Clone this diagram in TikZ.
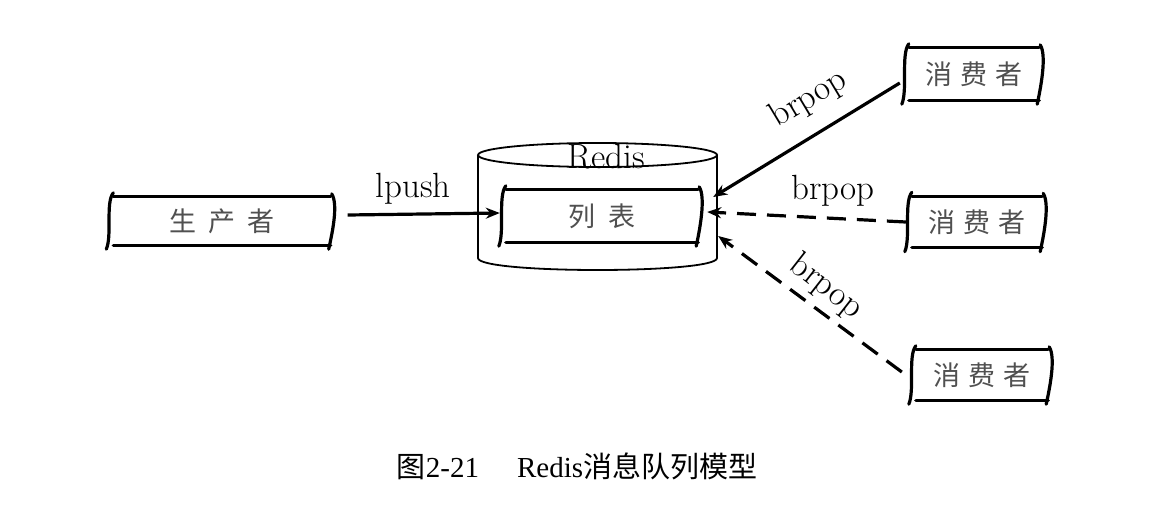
\documentclass[tikz,border=0pt]{standalone}
\usepackage{fontspec}
\usetikzlibrary{arrows.meta}
\newfontfamily\cjk{Noto Sans CJK SC}
\newfontfamily\capfont{Liberation Serif}
\definecolor{handgray}{HTML}{505050}
\tikzset{
  box/.style={inner sep=0pt, font=\cjk\fontsize{27}{27}\selectfont, text=handgray},
  bline/.style={line width=3.2pt, line cap=round},
  arr/.style={line width=3.2pt, -{Stealth[length=14pt,width=11pt]}},
  darr/.style={arr, dash pattern=on 19pt off 11pt},
  lbl/.style={font=\fontsize{35}{35}\selectfont, inner sep=0pt},
}
\newcommand\brk[1]{%
  \draw[bline] ([xshift=4pt]#1.north west) -- ([xshift=-4pt]#1.north east);
  \draw[bline] ([xshift=4pt]#1.south west) -- ([xshift=-4pt]#1.south east);
  \draw[bline] ([xshift=4pt,yshift=4pt]#1.north west) .. controls ([xshift=-4pt,yshift=-6pt]#1.north west) and ([xshift=3pt,yshift=10pt]#1.south west) .. ([xshift=-3pt,yshift=-4pt]#1.south west);
  \draw[bline] ([xshift=-3pt,yshift=3pt]#1.north east) .. controls ([xshift=4pt,yshift=-8pt]#1.north east) and ([xshift=-3pt,yshift=10pt]#1.south east) .. ([xshift=-6pt,yshift=-4pt]#1.south east);
}
\begin{document}
\begin{tikzpicture}[x=1pt,y=-1pt]
\useasboundingbox[fill=white] (0,0) rectangle (1169,506);
% cylinder
\draw[line width=1.8pt, fill=white] (478,155) -- (478,258) .. controls (478,274) and (717,274) .. (717,258) -- (717,155);
\draw[line width=1.8pt, fill=white] (597.5,155) ellipse [x radius=119.5pt, y radius=12pt];
\node[lbl] (redis) at (606,157) {Redis};
% boxes
\node[box, minimum width=225pt, minimum height=48pt] (prod) at (222,221) {生\hspace{12pt}产\hspace{12pt}者};
\node[box, minimum width=200pt, minimum height=52pt] (list) at (602,216) {列\hspace{14pt}表};
\node[box, minimum width=138pt, minimum height=52pt] (c1) at (974,74) {消\hspace{8pt}费\hspace{8pt}者};
\node[box, minimum width=138pt, minimum height=51pt] (c2) at (977,222) {消\hspace{8pt}费\hspace{8pt}者};
\node[box, minimum width=140pt, minimum height=50pt] (c3) at (982,375) {消\hspace{8pt}费\hspace{8pt}者};
\brk{prod}\brk{list}\brk{c1}\brk{c2}\brk{c3}
% connectors
\draw[arr] ([xshift=13pt,yshift=6pt]prod.east) -- ([xshift=-2pt,yshift=3pt]list.west);
\draw[arr] ([xshift=-5pt,yshift=-9pt]c1.west) -- ([xshift=11pt,yshift=19pt]list.east);
\draw[darr] ([xshift=-2pt]c2.west) -- ([xshift=5pt,yshift=4pt]list.east);
\draw[darr] ([xshift=-10pt,yshift=3pt]c3.west) -- ([xshift=16pt,yshift=-20pt]list.east);
% labels
\node[lbl] (lp) at (413,189) {lpush};
\node[lbl, rotate=31] (b1) at (809,99) {brpop};
\node[lbl] (b2) at (833,191) {brpop};
\node[lbl, rotate=-38] (b3) at (826,287) {brpop};
% caption
\node[inner sep=0pt, font=\fontsize{29}{29}\selectfont] (cap) at (577,466) {{\cjk 图}{\capfont 2-21}\hspace{38pt}{\capfont Redis}{\cjk 消息队列模型}};
\end{tikzpicture}
\end{document}
